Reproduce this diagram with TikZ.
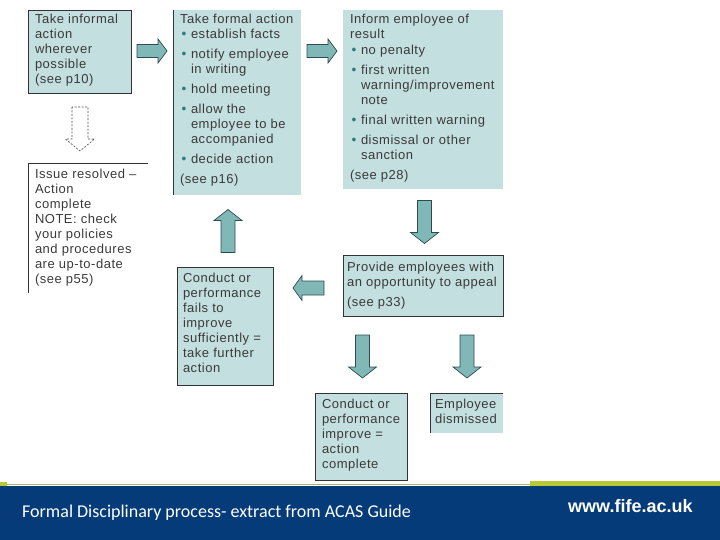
\documentclass[tikz,border=0pt]{standalone}
\usepackage{fontspec}
\usetikzlibrary{calc}
\newfontfamily\boxfont[LetterSpace=4]{Liberation Sans}
\newfontfamily\footfont{Carlito}
\newfontfamily\webfont{Liberation Sans}
\definecolor{boxfill}{HTML}{C4DFDF}
\definecolor{boxline}{HTML}{333333}
\definecolor{arrfill}{HTML}{80B8B8}
\definecolor{arrline}{HTML}{2E4C4C}
\definecolor{txt}{HTML}{3A3A3A}
\definecolor{bulc}{HTML}{2E7B7B}
\definecolor{bandblue}{HTML}{053B79}
\definecolor{lime}{HTML}{B7C935}
\definecolor{thinolive}{HTML}{A9B27A}
\newcommand\btext[5]{\parbox[t][#2][t]{#1}{\boxfont\fontsize{13}{15}\selectfont\color{txt}\raggedright\leftskip=#3\relax\rule{0pt}{#4}#5}}
\newcommand\bi{\makebox[11pt][l]{\hspace{1.5pt}{\color{bulc}\raisebox{0.3pt}{\scalebox{1.05}{\textbullet}}}}}
\newcommand\ind{\hspace*{11pt}}
\newcommand\blk[6]{\filldraw[arr,shift={(#1)},rotate=#2] (-#3/2,-#4) -- (#3/2-#6,-#4) -- (#3/2-#6,-#5) -- (#3/2,0) -- (#3/2-#6,#5) -- (#3/2-#6,#4) -- (-#3/2,#4) -- cycle;}
\tikzset{
  box/.style={anchor=north west, inner sep=0pt, outer sep=0pt, fill=boxfill},
  wbox/.style={anchor=north west, inner sep=0pt, outer sep=0pt},
  bdr/.style={draw=boxline, line width=0.8pt},
  edge line/.style={draw=boxline, line width=0.8pt},
  arr/.style={fill=arrfill, draw=arrline, line width=0.7pt},
  darr/.style={fill=white, draw=black!70, line width=0.6pt, dash pattern=on 2pt off 1.5pt},
}
\begin{document}
\begin{tikzpicture}[x=1pt,y=1pt]
\useasboundingbox (0,0) rectangle (720,-540);
% boxes
\node[box,bdr] (A) at (28,-10) {\btext{103pt}{83pt}{7pt}{13.5pt}{Take informal\\ action\\ wherever\\ possible\\ (see p10)}};
\node[box] (B) at (173,-10) {\btext{128pt}{185pt}{7pt}{13.5pt}{Take formal action\\ \bi establish facts\\[5pt] \bi notify employee\\ \ind in writing\\[5pt] \bi hold meeting\\[5pt] \bi allow the\\ \ind employee to be\\ \ind accompanied\\[5pt] \bi decide action\\[5pt] (see p16)}};
\draw[edge line] (B.north west) -- (B.south west);
\node[box] (C) at (343,-10) {\btext{160pt}{179pt}{7pt}{13.5pt}{Inform employee of\\ result\\[1pt] \bi no penalty\\[5pt] \bi first written\\ \ind warning/improvement\\ \ind note\\[5pt] \bi final written warning\\[5pt] \bi dismissal or other\\ \ind sanction\\[5pt] (see p28)}};
\node[wbox] (D) at (28,-163) {\btext{120pt}{130pt}{7pt}{15.5pt}{Issue resolved –\\ Action\\ complete\\ NOTE: check\\ your policies\\ and procedures\\ are up-to-date\\ (see p55)}};
\draw[edge line] (D.north east) -- (D.north west) -- (D.south west);
\node[box,bdr] (E) at (177,-267) {\btext{96pt}{118pt}{6pt}{15.5pt}{Conduct or\\ performance\\ fails to\\ improve\\ sufficiently =\\ take further\\ action}};
\node[box,bdr] (F) at (343,-255) {\btext{160pt}{61pt}{4pt}{16.5pt}{Provide employees with\\ an opportunity to appeal\\[5pt] (see p33)}};
\node[box,bdr] (G) at (315,-393) {\btext{92pt}{87pt}{7pt}{15.5pt}{Conduct or\\ performance\\ improve =\\ action\\ complete}};
\node[box] (H) at (430,-393) {\btext{73pt}{40pt}{5pt}{15.5pt}{Employee\\ dismissed}};
\draw[edge line] (H.south west) -- (H.north west) -- (H.north east);
% arrows between boxes
\blk{$(A.north east)!0.5!(B.north west)+(0,-41)$}{0}{30}{6.5}{12}{9}
\blk{$(B.north east)!0.5!(C.north west)+(0,-41)$}{0}{30}{6.5}{12}{9}
\blk{$(C.south)!0.5!(F.north)+(1.5,0)$}{-90}{43}{7}{14}{11}
\blk{$(F.west)+(-34.5,-2.5)$}{180}{31}{7}{12.5}{9}
\blk{$(E.north)!0.5!(B.south -| E.north)+(3,0)$}{90}{43}{7}{14}{11}
\blk{$(F.south -| G.north)!0.5!(G.north)+(1.5,-2)$}{-90}{43}{7}{14}{11}
\blk{$(F.south -| H.north)!0.5!(H.north)+(0.5,-2)$}{-90}{43}{7}{14}{11}
\filldraw[darr,shift={($(A.south)!0.5!(D.north -| A.south)+(0.5,-1)$)},rotate=-90] (-22,-8) -- (10,-8) -- (10,-14.5) -- (22,0) -- (10,14.5) -- (10,8) -- (-22,8) -- cycle;
% footer
\fill[bandblue] (0,-486) rectangle (720,-540);
\draw[thinolive, line width=1pt] (0,-484.5) -- (720,-484.5);
\fill[lime] (530,-481) rectangle (720,-486);
\fill[lime] (0,-481.5) rectangle (7,-486);
\node[anchor=base west, inner sep=0pt, text=white] (cap) at (22,-517) {\footfont\fontsize{18}{20}\selectfont Formal Disciplinary process- extract from ACAS Guide};
\node[anchor=base west, inner sep=0pt, text=white] (url) at (568,-512) {\webfont\bfseries\fontsize{18}{20}\selectfont www.fife.ac.uk};
\end{tikzpicture}
\end{document}
